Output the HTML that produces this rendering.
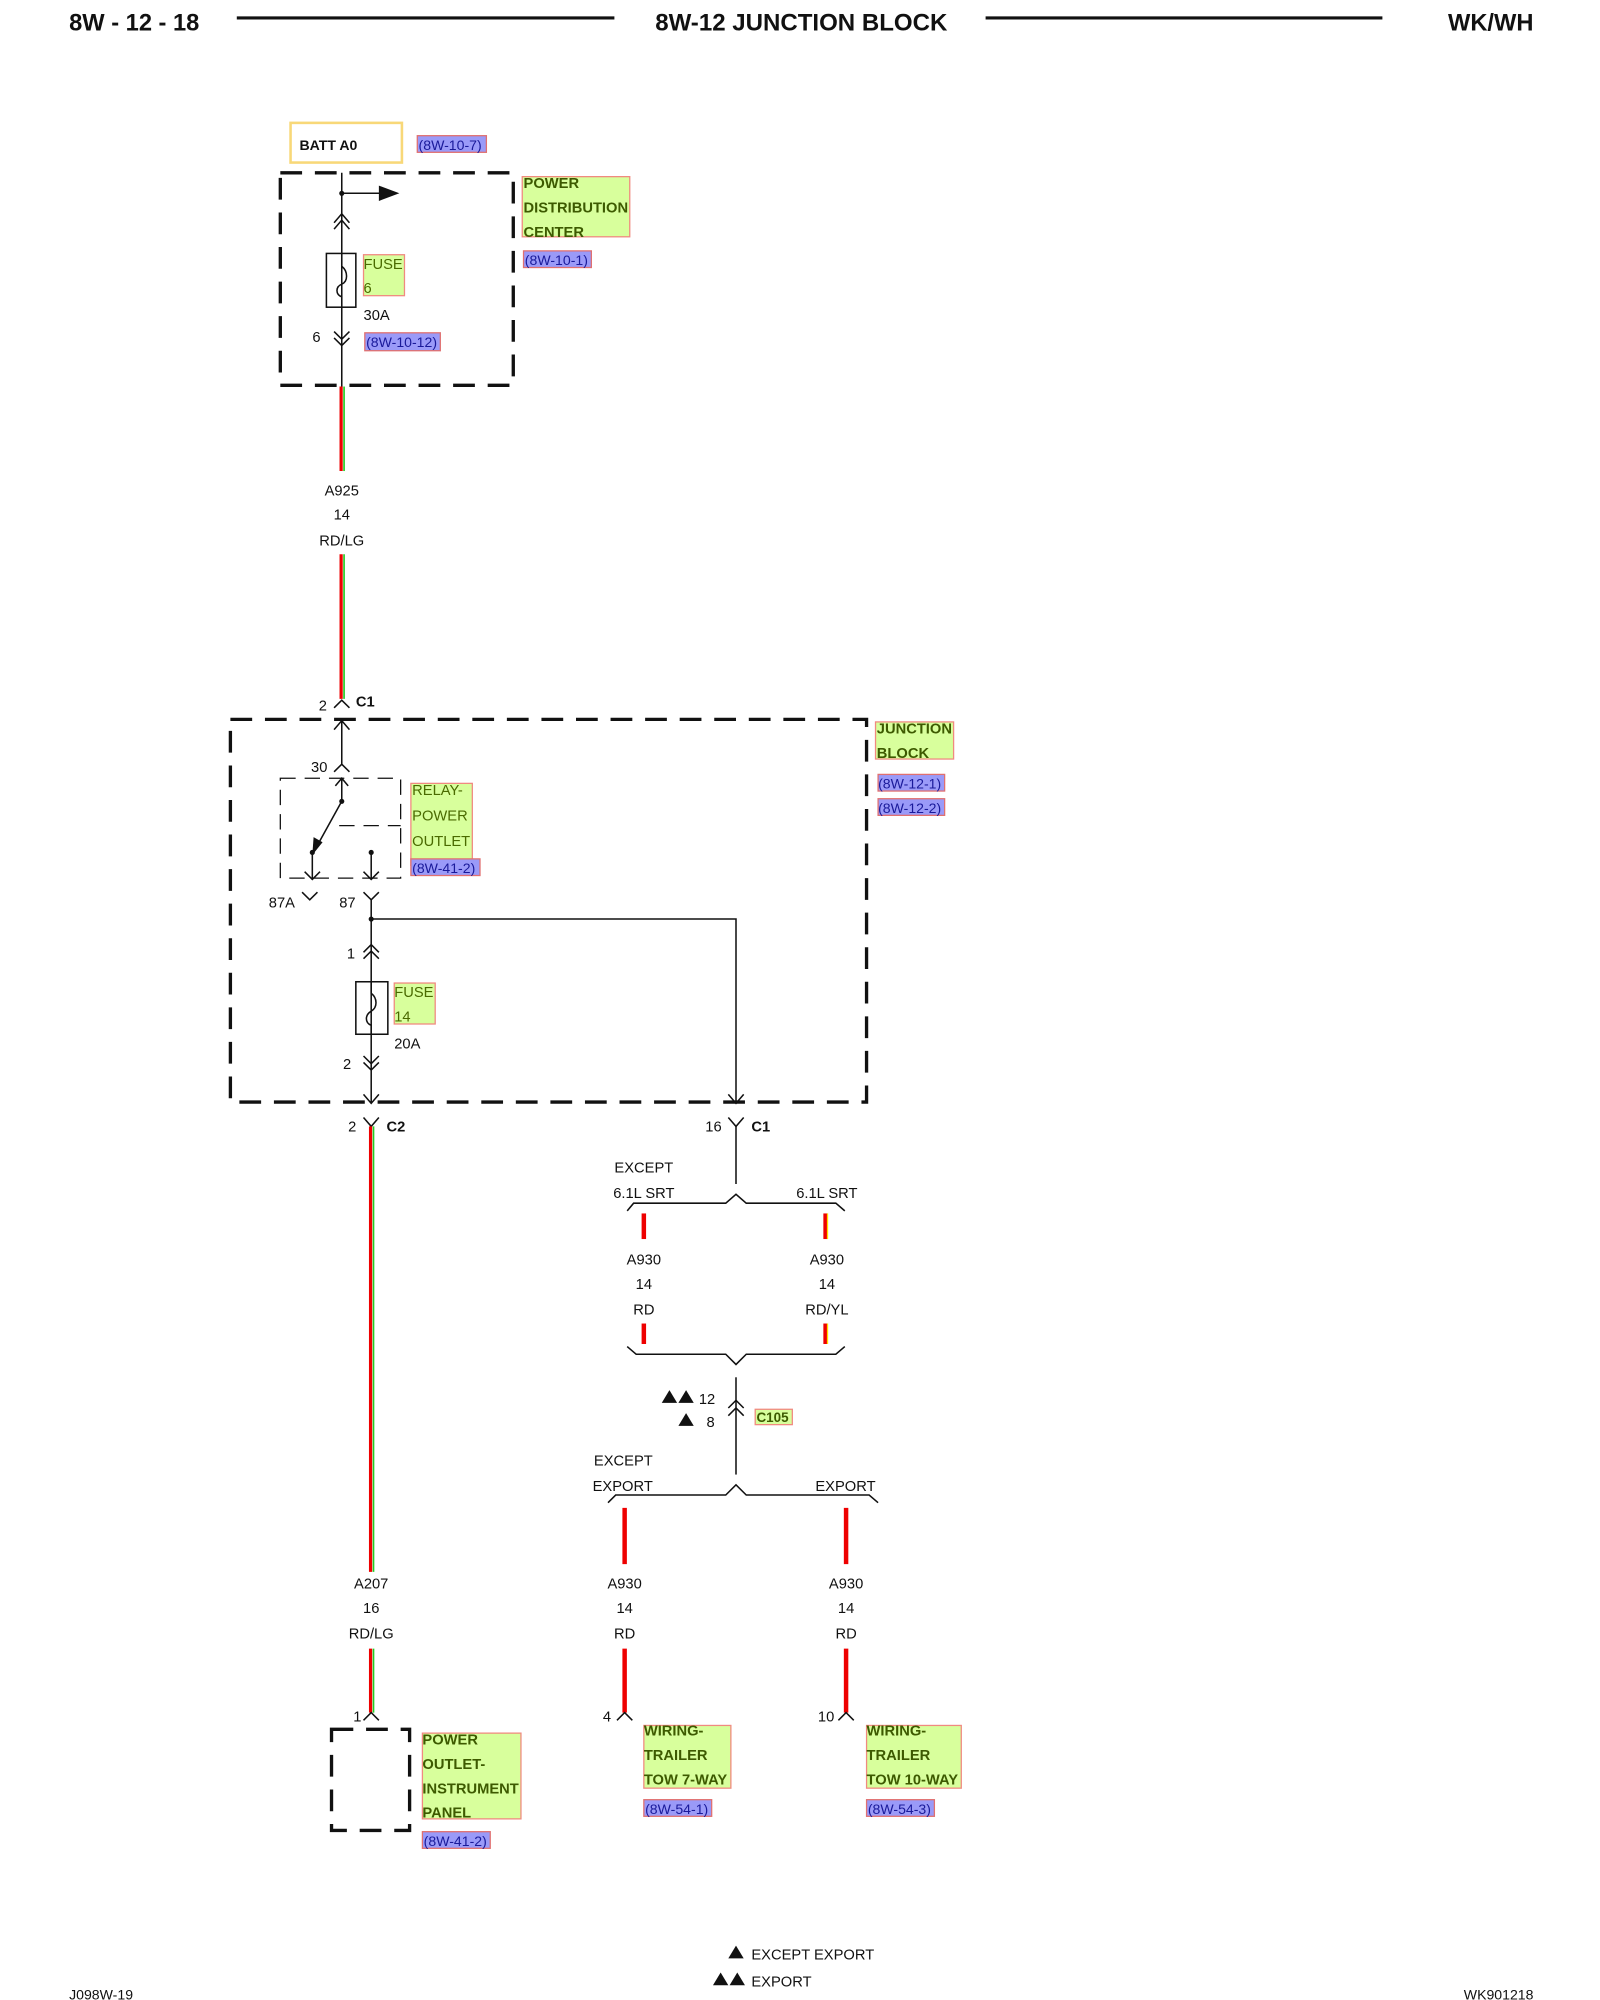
<!DOCTYPE html>
<html><head><meta charset="utf-8"><style>
html,body{margin:0;padding:0;background:#fff}
svg{display:block}
text{font-family:"Liberation Sans",Arial,sans-serif;font-size:11.5px;fill:#111}
.b{font-weight:bold}
.g{fill:#4a6a00;font-size:11.5px}
.gb{fill:#3d5a00;font-weight:bold;font-size:11.5px}
.r{fill:#1a1a9a;font-size:11px}
.lab{fill:#d8ff9c;stroke:#f08a80;stroke-width:1}
.ref{fill:#9a9af8;stroke:#e07070;stroke-width:1}
.w{stroke:#111;stroke-width:1.2;fill:none}
.dash{stroke:#111;stroke-width:2.6;fill:none;stroke-dasharray:17,10}
.tdash{stroke:#111;stroke-width:1;fill:none;stroke-dasharray:12,7}
</style></head><body>
<svg width="1600" height="2000" viewBox="0 0 1250 1562.5" xmlns="http://www.w3.org/2000/svg">
<!-- header -->
<text x="54" y="24" class="b" style="font-size:18.5px">8W - 12 - 18</text>
<line x1="185" y1="14" x2="480" y2="14" stroke="#111" stroke-width="2.5"/>
<text x="626" y="24" class="b" text-anchor="middle" style="font-size:18.8px">8W-12 JUNCTION BLOCK</text>
<line x1="770" y1="14" x2="1080" y2="14" stroke="#111" stroke-width="2.5"/>
<text x="1198" y="24" class="b" text-anchor="end" style="font-size:18.5px">WK/WH</text>

<!-- BATT -->
<rect x="227" y="96" width="87" height="31" fill="#fff" stroke="#f8d878" stroke-width="2"/>
<text x="234" y="117" class="b" style="font-size:11px">BATT A0</text>
<rect x="326" y="106" width="54" height="13" class="ref"/><text x="327" y="117" class="r">(8W-10-7)</text>

<!-- PDC -->
<rect x="219" y="135" width="182" height="166" class="dash"/>
<line x1="267" y1="135" x2="267" y2="302" class="w"/>
<circle cx="267" cy="151" r="2" fill="#111"/>
<line x1="267" y1="151" x2="298" y2="151" class="w"/>
<polygon points="296,145 312,151 296,157" fill="#111"/>
<polyline points="261,174 267,167 273,174" class="w"/><polyline points="261,179 267,172 273,179" class="w"/>
<rect x="255" y="198" width="23" height="42" class="w" fill="#fff"/>
<path d="M267,198 L267,208 C272,212 272,220 267,222 C262,224 262,230 267,232 L267,240" class="w"/>
<rect x="284" y="199" width="32" height="32" class="lab"/><text x="284" y="210" class="g">FUSE</text><text x="284" y="229" class="g">6</text>
<text x="284" y="250">30A</text>
<text x="244" y="267">6</text>
<polyline points="261,259 267,265 273,259" class="w"/><polyline points="261,264 267,270 273,264" class="w"/>
<rect x="285" y="260" width="59" height="14" class="ref"/><text x="286" y="271" class="r">(8W-10-12)</text>
<rect x="408" y="138" width="84" height="47" class="lab"/>
<text x="409" y="147" class="gb">POWER</text><text x="409" y="166" class="gb">DISTRIBUTION</text><text x="409" y="185" class="gb">CENTER</text>
<rect x="409" y="196" width="53" height="13" class="ref"/><text x="410" y="207" class="r">(8W-10-1)</text>

<!-- wire A925 -->
<line x1="266.5" y1="302" x2="266.5" y2="368" stroke="#e00" stroke-width="2.5"/><line x1="268.8" y1="302" x2="268.8" y2="368" stroke="#2c2" stroke-width="1.3"/>
<text x="267" y="387" text-anchor="middle">A925</text><text x="267" y="406" text-anchor="middle">14</text><text x="267" y="426" text-anchor="middle">RD/LG</text>
<line x1="266.5" y1="433" x2="266.5" y2="546" stroke="#e00" stroke-width="2.5"/><line x1="268.8" y1="433" x2="268.8" y2="546" stroke="#2c2" stroke-width="1.3"/>
<text x="249" y="555">2</text><polyline points="261,553 267,547 273,553" class="w"/><text x="278" y="552" class="b">C1</text>

<!-- JB -->
<rect x="180" y="562" width="497" height="299" class="dash"/>
<rect x="684" y="564" width="61" height="29" class="lab"/><text x="685" y="573" class="gb">JUNCTION</text><text x="685" y="592" class="gb">BLOCK</text>
<rect x="686" y="605" width="52" height="13" class="ref"/><text x="686" y="616" class="r">(8W-12-1)</text>
<rect x="686" y="624" width="52" height="13" class="ref"/><text x="686" y="635" class="r">(8W-12-2)</text>
<line x1="267" y1="563" x2="267" y2="598" class="w"/><polyline points="261,570 267,563 273,570" class="w"/>
<text x="243" y="603">30</text><polyline points="261,603 267,597 273,603" class="w"/>
<rect x="219" y="608" width="94" height="78" class="tdash"/>
<line x1="267" y1="609" x2="267" y2="627" class="w"/><polyline points="262,614 267,608 272,614" class="w"/>
<circle cx="267" cy="626" r="2" fill="#111"/>
<line x1="267" y1="626" x2="246" y2="664" class="w"/><polygon points="244,668 245,654 252,658" fill="#111"/>
<line x1="265" y1="645" x2="313" y2="645" class="tdash"/>
<circle cx="244" cy="666" r="2" fill="#111"/><line x1="244" y1="666" x2="244" y2="687" class="w"/><polyline points="238,681 244,687 250,681" class="w"/>
<circle cx="290" cy="666" r="2" fill="#111"/><line x1="290" y1="666" x2="290" y2="687" class="w"/><polyline points="284,681 290,687 296,681" class="w"/>
<rect x="321" y="612" width="48" height="64" class="lab"/><text x="322" y="621" class="g">RELAY-</text><text x="322" y="641" class="g">POWER</text><text x="322" y="661" class="g">OUTLET</text>
<rect x="321" y="671" width="54" height="13" class="ref"/><text x="322" y="682" class="r">(8W-41-2)</text>
<text x="210" y="709">87A</text><polyline points="236,697 242,703 248,697" class="w"/>
<text x="265" y="709">87</text><polyline points="284,697 290,703 296,697" class="w"/>
<line x1="290" y1="703" x2="290" y2="862" class="w"/>
<circle cx="290" cy="718" r="2" fill="#111"/>
<polyline points="290,718 575,718 575,862" class="w"/>
<polyline points="569,855 575,862 581,855" class="w"/>
<text x="271" y="749">1</text>
<polyline points="284,744 290,738 296,744" class="w"/><polyline points="284,749 290,743 296,749" class="w"/>
<rect x="278" y="767" width="25" height="41" class="w" fill="#fff"/>
<path d="M290,767 L290,776 C295,780 295,787 290,790 C285,793 285,799 290,801 L290,808" class="w"/>
<rect x="308" y="768" width="32" height="32" class="lab"/><text x="308" y="779" class="g">FUSE</text><text x="308" y="798" class="g">14</text>
<text x="308" y="819">20A</text>
<text x="268" y="835">2</text>
<polyline points="284,825 290,831 296,825" class="w"/><polyline points="284,830 290,836 296,830" class="w"/>
<polyline points="284,855 290,862 296,855" class="w"/>

<!-- C2 / A207 -->
<text x="272" y="884">2</text><polyline points="284,873 290,880 296,873" class="w"/><text x="302" y="884" class="b">C2</text>
<line x1="289.5" y1="880" x2="289.5" y2="1228" stroke="#e00" stroke-width="2.5"/><line x1="291.8" y1="880" x2="291.8" y2="1228" stroke="#2c2" stroke-width="1.3"/>
<text x="290" y="1241" text-anchor="middle">A207</text><text x="290" y="1260" text-anchor="middle">16</text><text x="290" y="1280" text-anchor="middle">RD/LG</text>
<line x1="289.5" y1="1288" x2="289.5" y2="1338" stroke="#e00" stroke-width="2.5"/><line x1="291.8" y1="1288" x2="291.8" y2="1338" stroke="#2c2" stroke-width="1.3"/>
<text x="276" y="1345">1</text><polyline points="284,1344 290,1338 296,1344" class="w"/>
<rect x="259" y="1351" width="61" height="79" class="dash"/>
<rect x="330" y="1354" width="77" height="67" class="lab"/>
<text x="330" y="1363" class="gb">POWER</text><text x="330" y="1382" class="gb">OUTLET-</text><text x="330" y="1401" class="gb">INSTRUMENT</text><text x="330" y="1420" class="gb">PANEL</text>
<rect x="330" y="1431" width="53" height="13" class="ref"/><text x="331" y="1442" class="r">(8W-41-2)</text>

<!-- right branch -->
<text x="551" y="884">16</text><polyline points="569,873 575,880 581,873" class="w"/><text x="587" y="884" class="b">C1</text>
<line x1="575" y1="880" x2="575" y2="925" class="w"/>
<text x="503" y="916" text-anchor="middle">EXCEPT</text><text x="503" y="936" text-anchor="middle">6.1L SRT</text><text x="646" y="936" text-anchor="middle">6.1L SRT</text>
<polyline points="490,946 495,940 567,940 575,933 583,940 653,940 660,946" class="w"/>
<line x1="503" y1="948" x2="503" y2="968" stroke="#e00" stroke-width="3.5"/>
<line x1="645" y1="948" x2="645" y2="968" stroke="#e00" stroke-width="3.5"/><line x1="646.5" y1="948" x2="646.5" y2="968" stroke="#fd0" stroke-width="1"/>
<text x="503" y="988" text-anchor="middle">A930</text><text x="503" y="1007" text-anchor="middle">14</text><text x="503" y="1027" text-anchor="middle">RD</text>
<text x="646" y="988" text-anchor="middle">A930</text><text x="646" y="1007" text-anchor="middle">14</text><text x="646" y="1027" text-anchor="middle">RD/YL</text>
<line x1="503" y1="1034" x2="503" y2="1050" stroke="#e00" stroke-width="3.5"/>
<line x1="645" y1="1034" x2="645" y2="1050" stroke="#e00" stroke-width="3.5"/><line x1="646.5" y1="1034" x2="646.5" y2="1050" stroke="#fd0" stroke-width="1"/>
<polyline points="490,1052 497,1058 567,1058 575,1066 583,1058 653,1058 660,1052" class="w"/>
<line x1="575" y1="1076" x2="575" y2="1152" class="w"/>
<polyline points="569,1100 575,1094 581,1100" class="w"/><polyline points="569,1106 575,1100 581,1106" class="w"/>
<polygon points="517,1096 523,1086 529,1096" fill="#111"/><polygon points="530,1096 536,1086 542,1096" fill="#111"/><text x="546" y="1097">12</text>
<polygon points="530,1114 536,1104 542,1114" fill="#111"/><text x="552" y="1115">8</text>
<rect x="590" y="1101" width="29" height="12" class="lab"/><text x="591" y="1111" class="gb" style="font-size:10.5px">C105</text>
<text x="464" y="1145">EXCEPT</text><text x="463" y="1165">EXPORT</text><text x="637" y="1165">EXPORT</text>
<polyline points="475,1174 481,1168 567,1168 575,1160 583,1168 679,1168 686,1174" class="w"/>
<line x1="488" y1="1178" x2="488" y2="1222" stroke="#e00" stroke-width="3.5"/>
<line x1="661" y1="1178" x2="661" y2="1222" stroke="#e00" stroke-width="3.5"/>
<text x="488" y="1241" text-anchor="middle">A930</text><text x="488" y="1260" text-anchor="middle">14</text><text x="488" y="1280" text-anchor="middle">RD</text>
<text x="661" y="1241" text-anchor="middle">A930</text><text x="661" y="1260" text-anchor="middle">14</text><text x="661" y="1280" text-anchor="middle">RD</text>
<line x1="488" y1="1288" x2="488" y2="1338" stroke="#e00" stroke-width="3.5"/>
<line x1="661" y1="1288" x2="661" y2="1338" stroke="#e00" stroke-width="3.5"/>
<text x="471" y="1345">4</text><polyline points="482,1344 488,1338 494,1344" class="w"/>
<text x="639" y="1345">10</text><polyline points="655,1344 661,1338 667,1344" class="w"/>
<rect x="503" y="1348" width="68" height="49" class="lab"/>
<text x="503" y="1356" class="gb">WIRING-</text><text x="503" y="1375" class="gb">TRAILER</text><text x="503" y="1394" class="gb">TOW 7-WAY</text>
<rect x="503" y="1406" width="53" height="13" class="ref"/><text x="504" y="1417" class="r">(8W-54-1)</text>
<rect x="677" y="1348" width="74" height="49" class="lab"/>
<text x="677" y="1356" class="gb">WIRING-</text><text x="677" y="1375" class="gb">TRAILER</text><text x="677" y="1394" class="gb">TOW 10-WAY</text>
<rect x="677" y="1406" width="53" height="13" class="ref"/><text x="678" y="1417" class="r">(8W-54-3)</text>

<!-- legend -->
<polygon points="569,1530 575,1520 581,1530" fill="#111"/><text x="587" y="1531">EXCEPT EXPORT</text>
<polygon points="557,1551 563,1541 569,1551" fill="#111"/><polygon points="570,1551 576,1541 582,1551" fill="#111"/><text x="587" y="1552">EXPORT</text>
<text x="54" y="1562" style="font-size:11px">J098W-19</text>
<text x="1198" y="1562" text-anchor="end" style="font-size:11px">WK901218</text>
</svg>
</body></html>
